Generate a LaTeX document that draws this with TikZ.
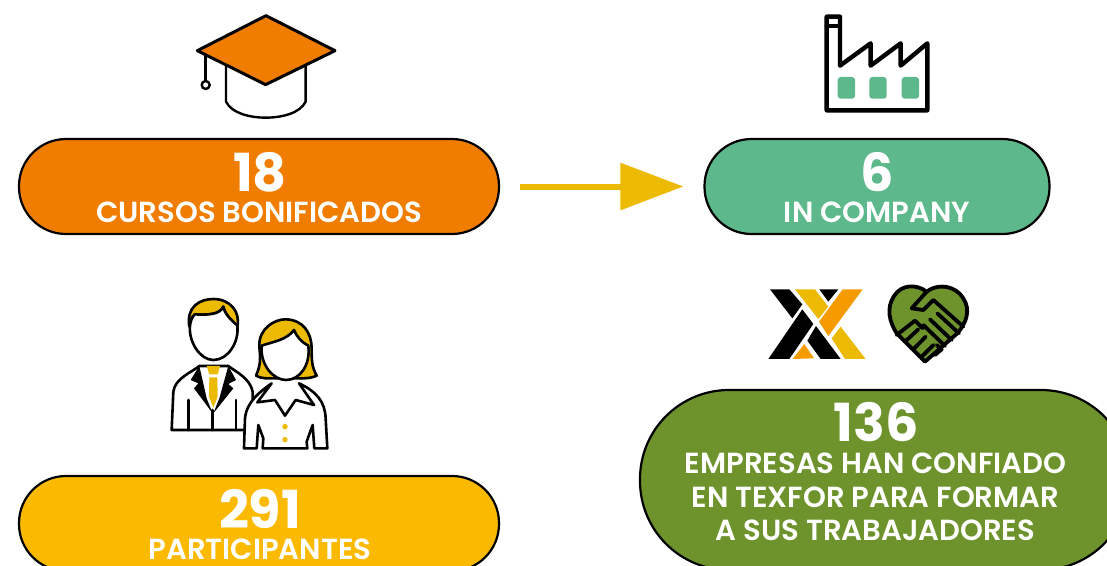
\documentclass[tikz,border=0pt]{standalone}
\usepackage{fontspec}
\setmainfont{Poppins}
\newfontfamily\semib{Poppins SemiBold}
\usetikzlibrary{arrows.meta}
\definecolor{corange}{RGB}{241,125,0}
\definecolor{cteal}{RGB}{93,185,140}
\definecolor{cyellow}{RGB}{251,185,0}
\definecolor{cgreen}{RGB}{111,147,44}
\definecolor{cgold}{RGB}{236,186,0}
\definecolor{clogo}{RGB}{245,155,0}
\tikzset{
  x=1pt,y=-1pt,
  pill/.style={draw=black,line width=2.2pt,rounded corners=#1,inner sep=0pt},
  numtext/.style={text=white,font=\bfseries\fontsize{52.5}{52.5}\selectfont,inner sep=0pt,anchor=center},
  labtext/.style={text=white,font=\semib\fontsize{29.1}{33.5}\selectfont,inner sep=0pt,anchor=center,align=center},
  icon/.style={line width=2.6pt,line join=round,line cap=round},
  zoomed/.style={x=0.3333pt,y=-0.3333pt},
  link/.style={draw=cgold,line width=6pt,-{Triangle[length=63pt,width=46pt]}},
}
\begin{document}
\begin{tikzpicture}
\useasboundingbox (0,0) rectangle (1107,565);
\clip (0,0) rectangle (1107,565);
% pills
\node[pill=47pt,fill=corange,minimum width=480pt,minimum height=95pt] (cursos) at (259,186.5) {};
\node[pill=47pt,fill=cteal,minimum width=345pt,minimum height=95pt] (company) at (877,186.5) {};
\node[pill=47pt,fill=cyellow,minimum width=480pt,minimum height=95pt] (part) at (259,523.5) {};
\node[pill=89pt,fill=cgreen,minimum width=490pt,minimum height=180pt] (emp) at (885,480) {};
\draw[link,shorten <=20pt,shorten >=20pt] (cursos.east) -- (company.west);
% texts
\node[numtext] (n18) at (260,172) {18};
\node[labtext] (l18) at (259,212) {CURSOS BONIFICADOS};
\node[numtext] (n6) at (877.5,172) {6};
\node[labtext] (l6) at (877,212) {IN COMPANY};
\node[numtext] (n291) at (260,509) {291};
\node[labtext] (l291) at (260,549) {PARTICIPANTES};
\node[numtext] (n136) at (876,422) {136};
\node[labtext] (l136) at (875.5,497) {EMPRESAS HAN CONFIADO\\EN TEXFOR PARA FORMAR\\A SUS TRABAJADORES};
% cap
\begin{scope}[xshift=160pt,yshift=0pt,zoomed]
\draw[icon,line width=2.4pt] (198,190) -- (198,305) .. controls (215,340) and (270,353) .. (317,353) .. controls (365,353) and (420,340) .. (437,305) -- (437,190);
\draw[icon,line width=2.4pt] (137,165) -- (137,240);
\draw[icon,line width=2.4pt] (137,255) circle[radius=12];
\draw[icon,line width=3pt,fill=corange] (318,47) -- (525,152) -- (317,254) -- (112,152) -- cycle;
\end{scope}
% factory
\begin{scope}[xshift=800pt,yshift=0pt,zoomed]
\draw[icon,line width=4.4pt] (80,50) -- (120,50) -- (120,197) -- (212,130) -- (212,197) -- (302,130) -- (302,197) -- (382,130) -- (382,331) -- (80,331) -- cycle;
\draw[icon,line width=4.4pt] (80,78) -- (120,78);
\foreach \a/\b in {113/165,208/260,305/357}
  \fill[cteal,rounded corners=3pt] (\a,231) rectangle (\b,296);
\end{scope}
% people
\begin{scope}[xshift=150pt,yshift=-285pt,zoomed]
\draw[icon,fill=white] (65,435) -- (70,320) .. controls (75,280) and (125,262) .. (148,243) -- (235,243) .. controls (260,262) and (300,280) .. (308,320) -- (310,435) -- cycle;
\fill[black] (148,243) -- (122,285) -- (145,295) -- (132,310) -- (188,385) -- (170,340) -- cycle;
\fill[black] (235,243) -- (258,285) -- (235,297) -- (250,310) -- (190,385) -- (208,340) -- cycle;
\fill[cgold] (170,243) -- (210,243) -- (203,268) -- (178,268) -- cycle;
\fill[cgold] (178,277) -- (202,277) -- (203,335) -- (190,368) -- (177,335) -- cycle;
\draw[icon] (115,345) -- (115,435) (258,345) -- (258,435) (188,375) -- (188,435);
\draw[icon,fill=cgold] (118,125) .. controls (108,65) and (150,42) .. (190,42) .. controls (240,42) and (272,80) .. (262,125) .. controls (245,105) and (225,90) .. (220,65) .. controls (210,90) and (170,90) .. (135,88) .. controls (125,95) and (120,110) .. (118,125) -- cycle;
\draw[icon,fill=white] (120,122) .. controls (115,170) and (150,225) .. (190,225) .. controls (235,225) and (268,170) .. (262,122) .. controls (245,105) and (225,90) .. (220,65) .. controls (210,90) and (170,90) .. (135,88) .. controls (125,95) and (122,110) .. (120,122) -- cycle;
% woman
\draw[icon,fill=white] (282,490) -- (285,400) .. controls (290,350) and (330,320) .. (365,295) -- (322,352) -- (375,345) -- (405,392) -- (437,345) -- (492,360) -- (447,295) .. controls (500,320) and (525,350) .. (527,400) -- (532,490) -- (493,490) -- (488,420) -- (470,470) -- (472,490) -- (338,490) -- (340,460) -- (325,420) -- (320,490) -- cycle;
\fill[cgold] (405,425) circle[radius=8] (405,464) circle[radius=8];
\draw[icon,fill=cgold] (318,272) .. controls (335,235) and (330,210) .. (328,185) .. controls (325,130) and (375,103) .. (405,103) .. controls (460,103) and (485,145) .. (485,190) .. controls (485,225) and (485,245) .. (500,272) .. controls (480,282) and (450,280) .. (440,280) -- (370,280) .. controls (355,280) and (335,282) .. (318,272) -- cycle;
\draw[icon,fill=white] (335,182) .. controls (330,240) and (370,285) .. (408,285) .. controls (450,285) and (482,240) .. (475,182) .. controls (455,172) and (440,155) .. (432,135) .. controls (410,165) and (370,170) .. (335,182) -- cycle;
\end{scope}
% logo
\begin{scope}[xshift=750pt,yshift=-275pt,zoomed]
\fill[black] (60,43) -- (118,43) -- (157,88) -- (127,130) -- cycle;
\fill[cgold] (135,43) -- (195,43) -- (235,95) -- (205,132) -- cycle;
\fill[black] (208,43) -- (265,43) -- (235,80) -- cycle;
\fill[clogo] (278,43) -- (338,43) -- (235,183) -- (207,140) -- cycle;
\fill[black] (157,103) -- (190,147) -- (118,252) -- (55,252) -- cycle;
\fill[black] (198,153) -- (272,252) -- (212,252) -- (172,197) -- cycle;
\fill[clogo] (163,207) -- (192,250) -- (128,252) -- cycle;
\fill[cgold] (272,155) -- (347,252) -- (285,252) -- (245,190) -- cycle;
\end{scope}
% heart
\begin{scope}[xshift=880pt,yshift=-280pt,zoomed]
\draw[icon,line width=3.8pt,fill=cgreen] (140,35) .. controls (110,12) and (65,12) .. (42,48) .. controls (18,85) and (28,125) .. (50,160) -- (135,245) -- (232,160) .. controls (270,115) and (270,75) .. (240,42) .. controls (210,12) and (165,15) .. (140,35) -- cycle;
\draw[icon,line width=3.8pt] (140,35) -- (95,85) -- (130,90) -- (160,60) -- (250,140);
\draw[icon,line width=3.8pt] (172,100) -- (237,160) (150,118) -- (215,180) (130,135) -- (195,198);
\draw[icon,line width=3.8pt] (50,165) -- (105,122) -- (128,145);
\draw[icon,line width=3.8pt] (75,185) -- (115,148) (100,208) -- (137,170) (125,230) -- (160,195);
\draw[icon,line width=3.8pt] (165,225) -- (185,208) -- (170,195);
\end{scope}
\end{tikzpicture}
\end{document}
